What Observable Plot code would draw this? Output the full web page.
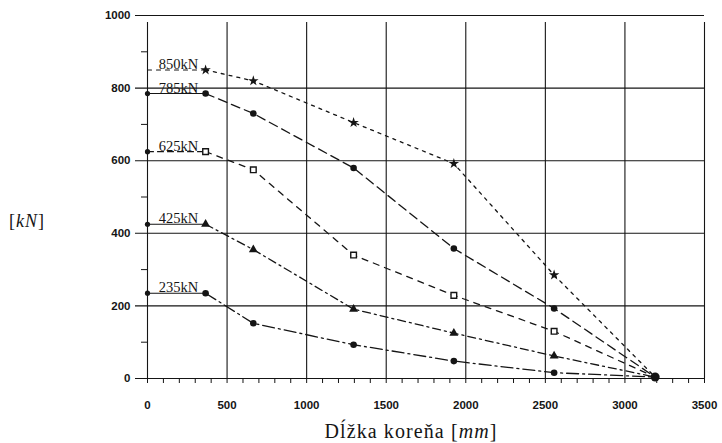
<!DOCTYPE html>
<html><head><meta charset="utf-8">
<script src="https://cdn.jsdelivr.net/npm/d3@7"></script>
<script src="https://cdn.jsdelivr.net/npm/@observablehq/plot@0.6"></script>
<style>body{margin:0;background:#fff}</style>
</head><body><div id="chart"></div>
<script>
const lengths = [0, 365, 665, 1295, 1925, 2555, 3190];
const load850 = [850, 850, 820, 705, 592, 285, 4];
const load785 = [785, 785, 730, 580, 358, 193, 4];
const load625 = [625, 625, 575, 340, 229, 130, 4];
const load425 = [425, 425, 355, 191, 125, 62, 4];
const load235 = [235, 235, 152, 93, 48, 16, 4];
const seriesNames = ["850kN", "785kN", "625kN", "425kN", "235kN"];
const seriesValues = [load850, load785, load625, load425, load235];
const xTicks = [0, 500, 1000, 1500, 2000, 2500, 3000, 3500];
const yTicks = [0, 200, 400, 600, 800, 1000];

const dashes = {"850kN": "3,5", "785kN": "9,5", "625kN": "6,6", "425kN": "8,4,2,4", "235kN": "12,4,2,4"};
const firstDash = {"850kN": "4,5", "785kN": null, "625kN": "6,4", "425kN": null, "235kN": null};
const symbols = {"850kN": "star", "785kN": "circle", "625kN": "square", "425kN": "triangle", "235kN": "circle"};

const rows = [];
seriesNames.forEach((name, i) => lengths.forEach((x, j) => rows.push({series: name, x, y: seriesValues[i][j], idx: j})));

const ink = "#151515";
const marks = [
  Plot.ruleX(xTicks, {stroke: ink, strokeWidth: 1.1, y1: 0, y2: 1000, insetBottom: -7}),
  Plot.ruleY(yTicks, {stroke: ink, strokeWidth: 1.1, x1: 0, x2: 3500, insetLeft: -12}),
  Plot.axisX(d3.range(0, 3501, 100), {tickSize: 5, tickFormat: () => "", stroke: ink}),
  Plot.axisY(d3.range(100, 1000, 200), {tickSize: 6, tickFormat: () => "", stroke: ink}),
  Plot.axisX(xTicks, {tickSize: 0, tickPadding: 22, fontSize: 11.5, fontWeight: "bold", fill: ink, tickFormat: d => String(d)}),
  Plot.axisY(yTicks, {tickSize: 0, tickPadding: 17, fontSize: 11.5, fontWeight: "bold", fill: ink, tickFormat: d => String(d)})
];
seriesNames.forEach(name => {
  marks.push(Plot.line(rows.filter(d => d.series === name && d.idx >= 1), {x: "x", y: "y", stroke: ink, strokeWidth: 1.3, strokeDasharray: dashes[name]}));
  marks.push(Plot.line(rows.filter(d => d.series === name && d.idx <= 1), {x: "x", y: "y", stroke: ink, strokeWidth: 1.1, strokeDasharray: firstDash[name]}));
  const pts = rows.filter(d => d.series === name && d.idx >= 1 && d.idx <= 5);
  if (symbols[name] === "square") {
    marks.push(Plot.dot(pts, {x: "x", y: "y", symbol: "square", r: 3.2, stroke: ink, strokeWidth: 1.4, fill: "white"}));
  } else {
    marks.push(Plot.dot(pts, {x: "x", y: "y", symbol: symbols[name], r: 3.3, fill: ink, stroke: "none"}));
  }
});
marks.push(Plot.dot(rows.filter(d => d.idx === 0 && d.series !== "850kN"), {x: "x", y: "y", r: 2.6, fill: ink}));
marks.push(Plot.dot(rows.filter(d => d.idx === 6 && d.series === "235kN"), {x: "x", y: "y", r: 4.5, fill: ink}));
marks.push(Plot.text(rows.filter(d => d.idx === 0), {x: 70, y: "y", text: "series", textAnchor: "start", lineAnchor: "bottom", dy: -1, fontSize: 14.5, fontFamily: "Liberation Serif", fill: ink}));

const chart = Plot.plot({
  width: 722, height: 443,
  marginLeft: 147, marginRight: 18, marginTop: 15, marginBottom: 65,
  x: {domain: [0, 3500], label: null},
  y: {domain: [0, 1000], label: null},
  style: {fontFamily: "Liberation Sans", background: "white"},
  marks
});
const svg = d3.select(chart);
const xt = svg.append("text").attr("x", 411).attr("y", 438).attr("text-anchor", "middle")
  .attr("font-family", "Liberation Serif").attr("font-size", 20).attr("letter-spacing", 1.1).attr("fill", ink);
xt.append("tspan").text("Dĺžka koreňa [");
xt.append("tspan").attr("font-style", "italic").text("mm");
xt.append("tspan").text("]");
const yt = svg.append("text").attr("x", 27).attr("y", 227).attr("text-anchor", "middle")
  .attr("font-family", "Liberation Serif").attr("font-size", 18).attr("letter-spacing", 1).attr("fill", ink);
yt.append("tspan").text("[");
yt.append("tspan").attr("font-style", "italic").text("kN");
yt.append("tspan").text("]");
document.getElementById("chart").appendChild(chart);
</script></body></html>
